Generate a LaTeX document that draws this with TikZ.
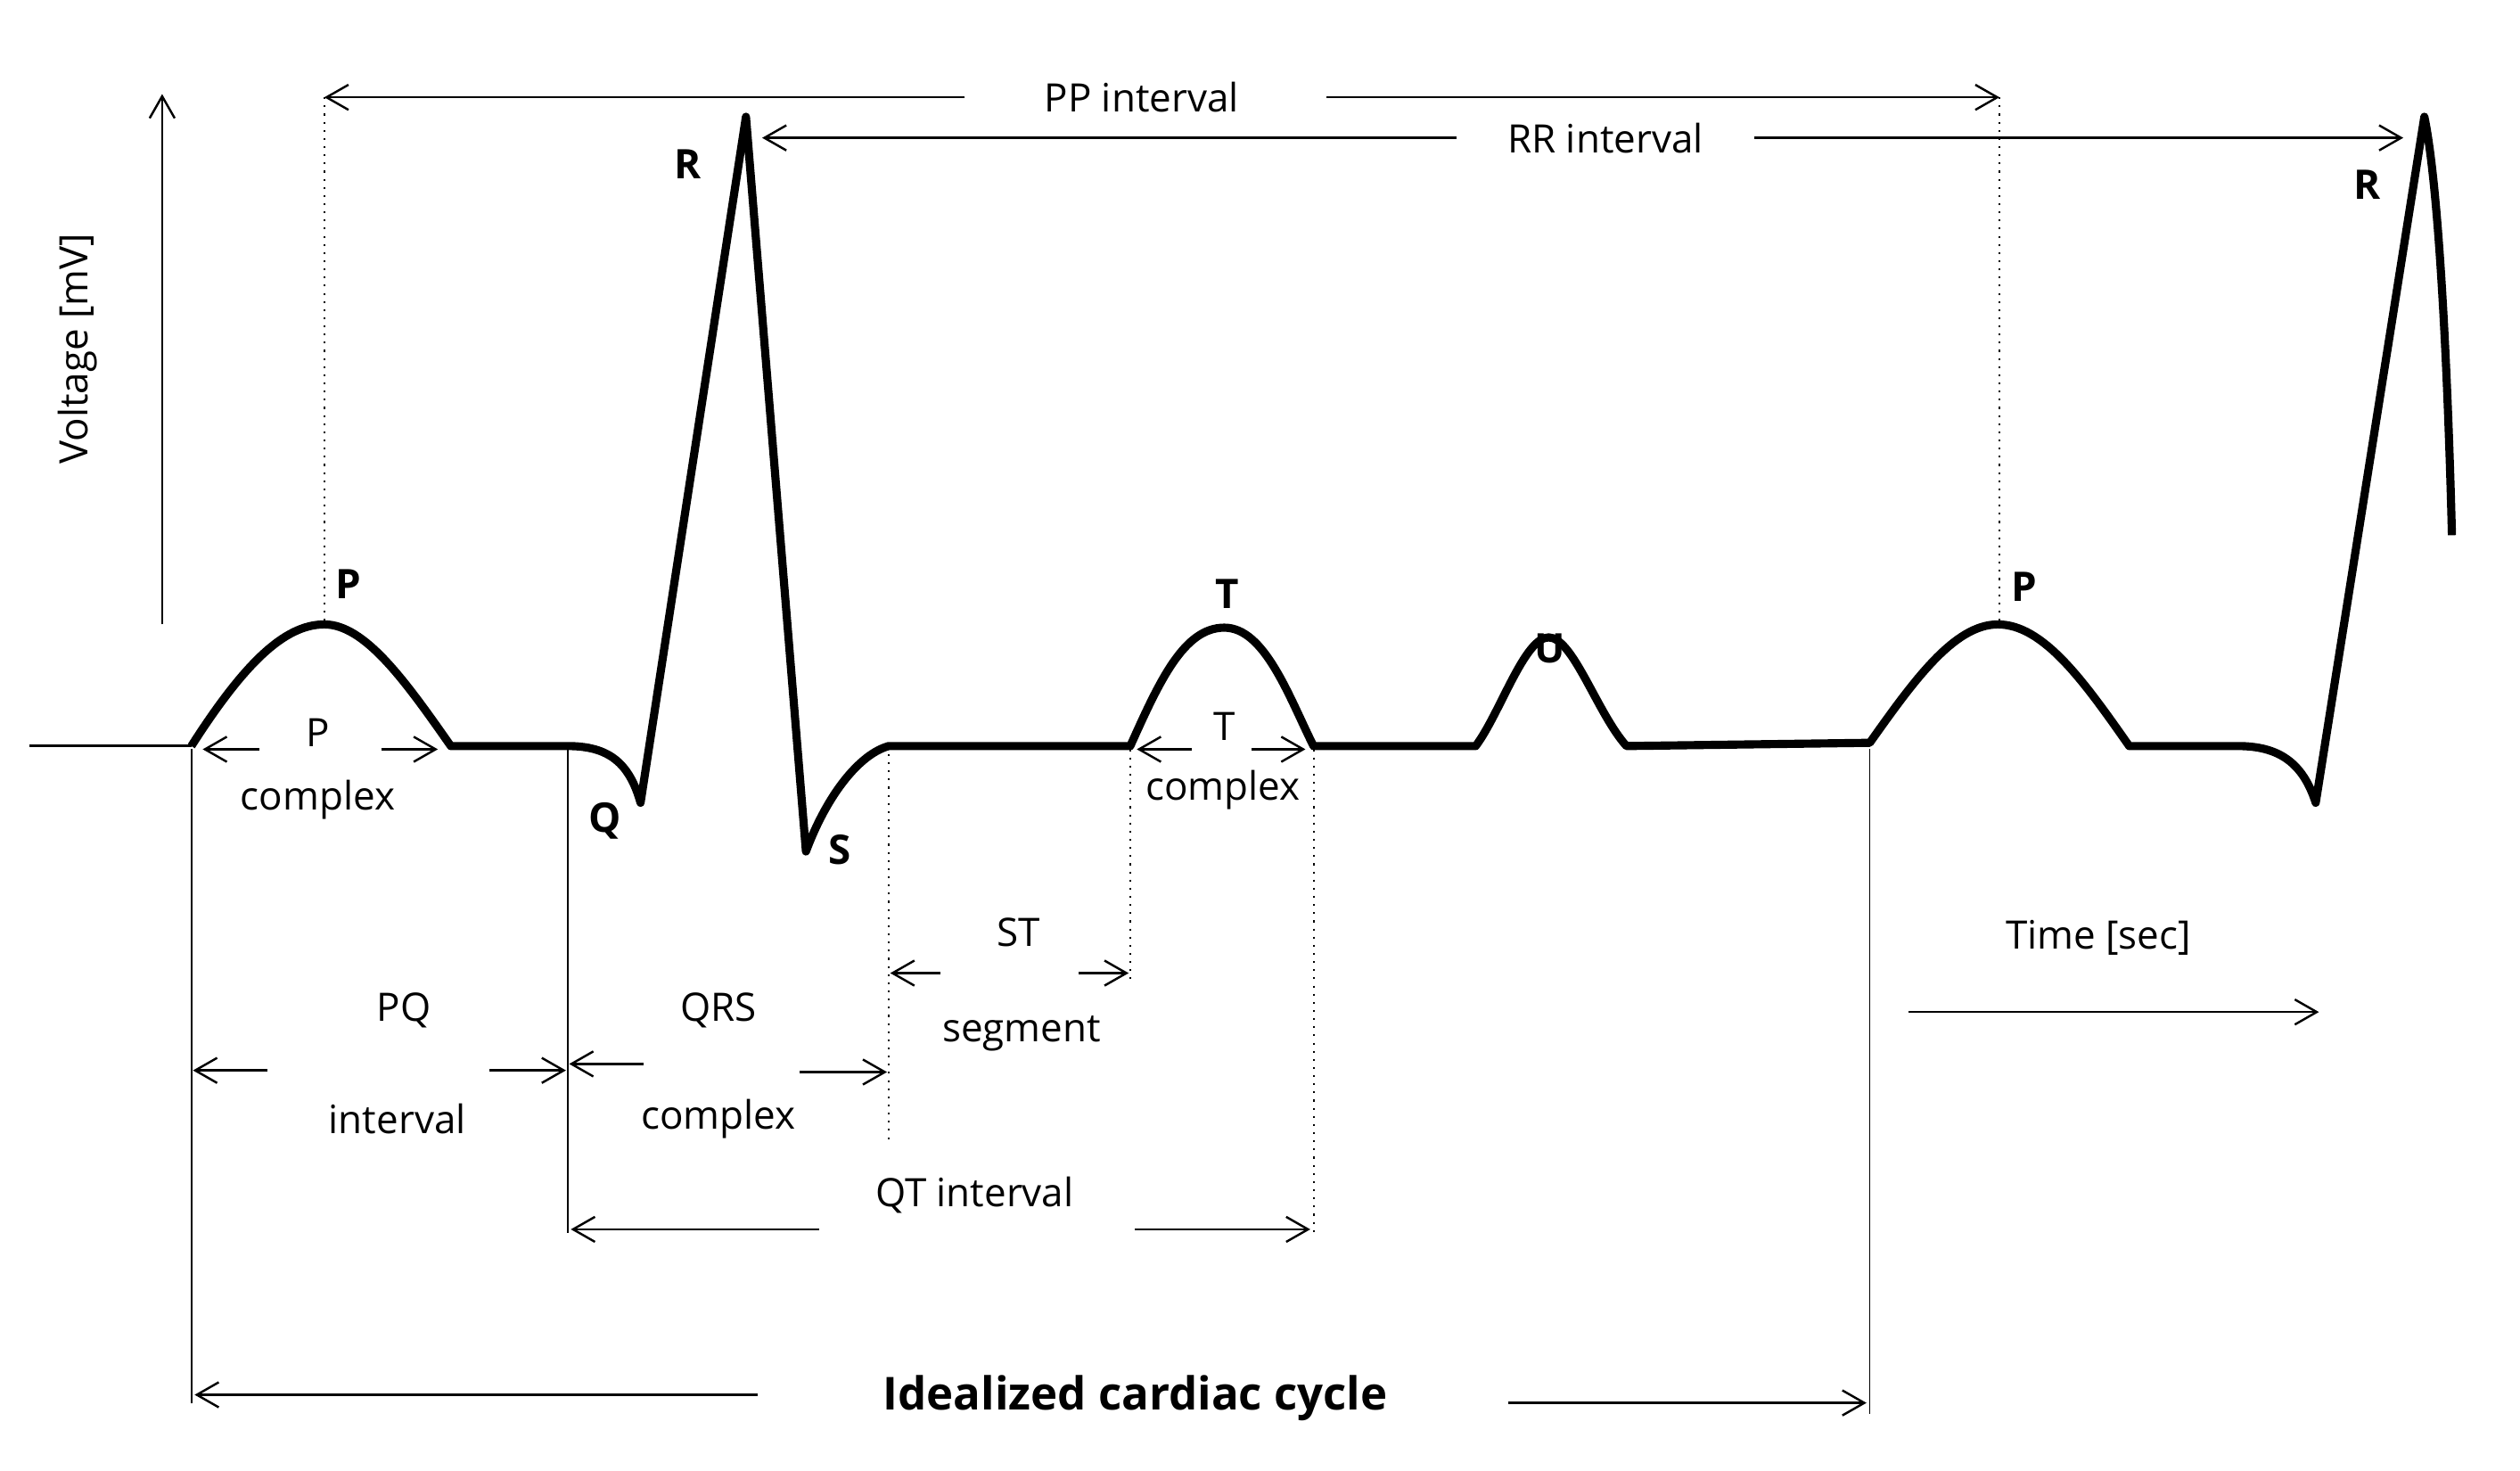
\documentclass[tikz,border=0pt]{standalone}
\usepackage{fontspec}
\setmainfont{Open Sans}
\usetikzlibrary{arrows.meta}
\begin{document}
\begin{tikzpicture}[x=0.01819cm,y=-0.01819cm,
  ecg/.style={line width=2.6pt,line join=round},
  arr/.style={-{Straight Barb[length=7pt,width=8pt]},line width=0.7pt},
  thin/.style={line width=0.5pt},
  dot/.style={line width=0.6pt,dotted},
  lab/.style={font=\fontsize{12.5}{14}\selectfont},
  wav/.style={font=\bfseries\fontsize{13}{15}\selectfont}]
\useasboundingbox (0,0) rectangle (1554,907);
% ECG trace
\draw[line width=0.8pt] (18,460) -- (118,460);
\draw[ecg] (118,460) .. controls (150,410) and (175,385) .. (200,385)
  .. controls (225,385) and (250,420) .. (278,460) -- (350,460)
  .. controls (375,460) and (388,470) .. (395,495) -- (460,72) -- (497,525)
  .. controls (510,490) and (530,465) .. (548,460) -- (697,460)
  .. controls (715,420) and (730,387) .. (755,387)
  .. controls (780,387) and (795,430) .. (810,460) -- (910,460)
  .. controls (925,440) and (940,393) .. (955,393)
  .. controls (970,393) and (985,440) .. (1003,460) -- (1153,458)
  .. controls (1180,420) and (1205,385) .. (1232,385)
  .. controls (1260,385) and (1285,420) .. (1313,460) -- (1380,460)
  .. controls (1405,460) and (1420,470) .. (1428,495) -- (1495,72)
  .. controls (1505,120) and (1510,250) .. (1512,330);
% wave labels
\node[wav] (lP1) at (215,360) {P};
\node[wav] (lR1) at (424,101) {R};
\node[wav] (lQ) at (373,506) {Q};
\node[wav] (lS) at (518,524) {S};
\node[wav] (lT) at (757,366) {T};
\node[wav] (lU) at (956,400) {U};
\node[wav] (lP2) at (1248,362) {P};
\node[wav] (lR2) at (1460,114) {R};
% voltage axis
\coordinate (va) at (100,385); \coordinate (vb) at (100,58);
\draw[arr] (va) -- (vb);
\node[lab,rotate=90] (volt) at (48,215) {Voltage [mV]};
% PP interval
\node[lab] (pp) at (704,60) {PP interval};
\coordinate (pp1) at (200,60); \coordinate (pp2) at (1233,60);
\draw[arr] (595,60) -- (pp1);
\draw[arr] (818,60) -- (pp2);
\draw[dot] (pp1) -- (200,385);
\draw[dot] (pp2) -- (1233,385);
% RR interval
\node[lab] (rr) at (990,85) {RR interval};
\draw[arr] (898,85) -- (470,85);
\draw[arr] (1082,85) -- (1482,85);
% P complex
\node[lab] (pc1) at (196,452) {P};
\node[lab] (pc2) at (196,493) {complex};
\draw[arr] (160,462) -- (125,462);
\draw[arr] (235,462) -- (270,462);
% T complex
\node[lab] (tc1) at (755,448) {T};
\node[lab] (tc2) at (754,487) {complex};
\draw[arr] (735,462) -- (701,462);
\draw[arr] (772,462) -- (805,462);
% verticals
\draw[thin] (118,462) -- (118,865);
\draw[thin] (350,462) -- (350,760);
\draw[thin] (1153,462) -- (1153,872);
\draw[dot] (548,465) -- (548,705);
\draw[dot] (697,462) -- (697,605);
\draw[dot] (810,462) -- (810,760);
% PQ interval
\node[lab] (pq1) at (249,623) {PQ};
\node[lab] (pq2) at (245,690) {interval};
\draw[arr] (165,660) -- (119,660);
\draw[arr] (302,660) -- (349,660);
% QRS complex
\node[lab] (qrs1) at (443,623) {QRS};
\node[lab] (qrs2) at (443,690) {complex};
\draw[arr] (397,656) -- (351,656);
\draw[arr] (493,661) -- (547,661);
% ST segment
\node[lab] (st1) at (628,575) {ST};
\node[lab] (st2) at (630,637) {segment};
\draw[arr] (580,600) -- (549,600);
\draw[arr] (665,600) -- (696,600);
% QT interval
\node[lab] (qt) at (601,737) {QT interval};
\draw[arr] (505,758) -- (352,758);
\draw[arr] (700,758) -- (808,758);
% cardiac cycle
\node[font=\bfseries\fontsize{14.5}{17}\selectfont] (cyc) at (700,862) {Idealized cardiac cycle};
\draw[arr] (467,860) -- (120,860);
\draw[arr] (930,865) -- (1151,865);
% time
\node[lab] (time) at (1294,578) {Time [sec]};
\coordinate (t1) at (1177,624); \coordinate (t2) at (1430,624);
\draw[arr] (t1) -- (t2);
\end{tikzpicture}
\end{document}
